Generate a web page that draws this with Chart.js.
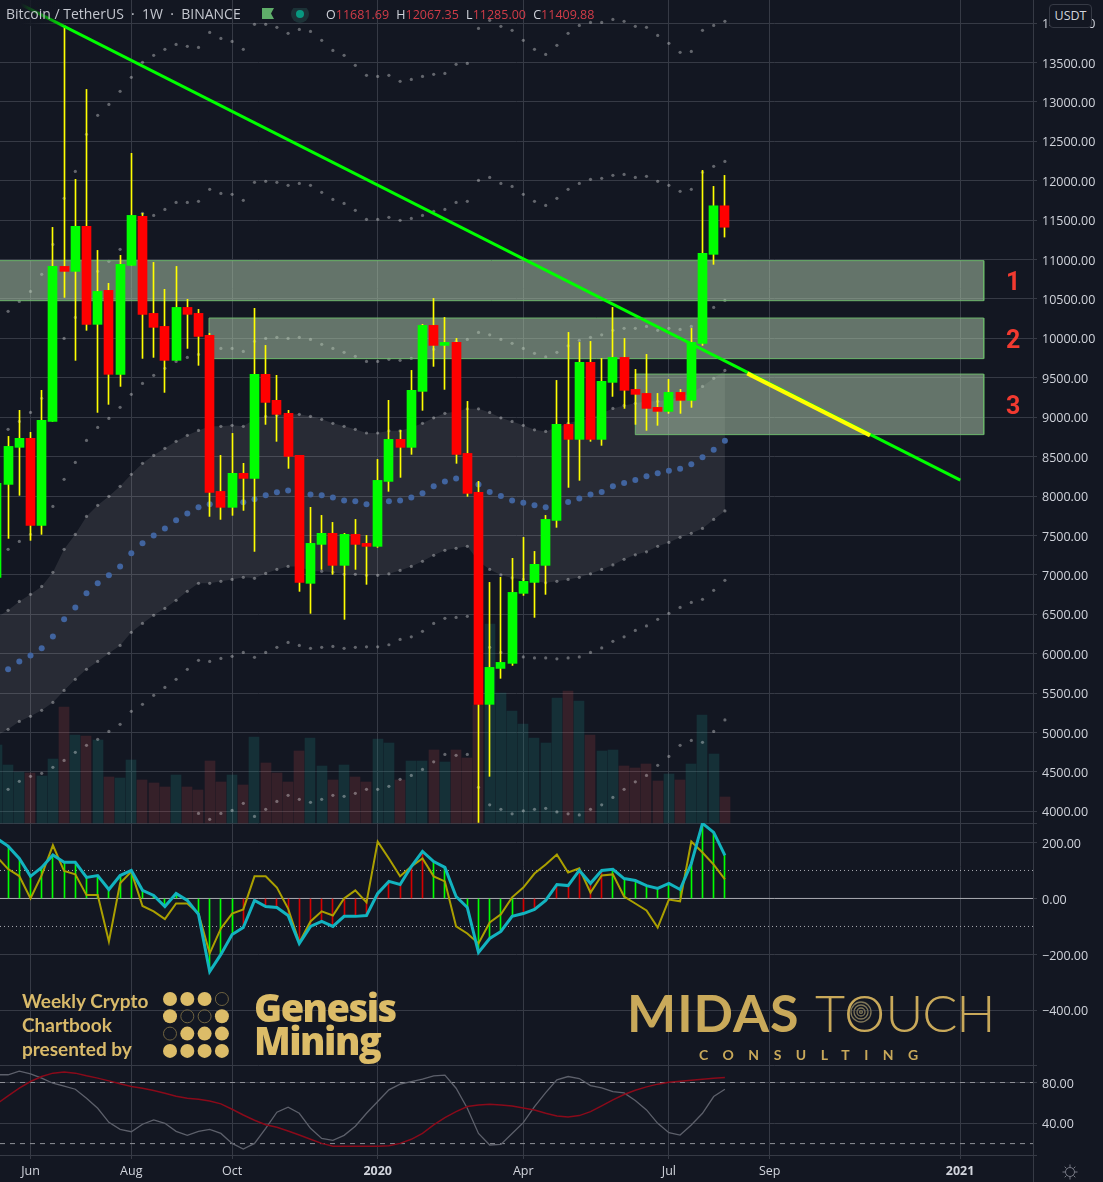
<!DOCTYPE html>
<html>
<head>
<meta charset="utf-8">
<title>BTCUSDT weekly</title>
<script src="https://cdn.jsdelivr.net/npm/chart.js@4"></script>
<style>
html, body { margin: 0; padding: 0; background: #131722; }
#wrap { position: relative; width: 1103px; height: 1182px; overflow: hidden; }
canvas { position: absolute; left: 0; top: 0; }
.t { position: absolute; white-space: nowrap; line-height: 1; }
.head { font-family: "Open Sans", sans-serif; font-size: 14px; color: #c3c6ce; }
.ohlc { font-family: "Open Sans", sans-serif; font-size: 12.5px; color: #d1d4dc; left: 326px; top: 9px; }
.ohlc b { font-weight: 400; color: #d23c48; margin-right: 4px; }
.zone { font-family: Roboto, sans-serif; font-weight: 700; font-size: 25px; color: #f23a30; }
.wc { font-family: Lato, sans-serif; font-weight: 700; font-size: 19px; color: #d9ba6a; left: 22px; }
.gm { font-family: "Open Sans", sans-serif; font-weight: 800; font-size: 38px; color: #dcbc68; left: 254px; letter-spacing: -1.5px; }
.mt { font-family: Lato, sans-serif; font-size: 52px; color: #c9a95a; }
</style>
</head>
<body>
<div id="wrap">
<canvas id="btcChart" width="1103" height="1182"></canvas>

<div class="t head" style="left:0;top:0;width:70px;height:26px;background:linear-gradient(90deg,#131722 30%,rgba(19,23,34,0))"></div>
<div class="t head" style="left:6px;top:7px">Bitcoin / TetherUS &nbsp;·&nbsp; 1W &nbsp;·&nbsp; BINANCE</div>
<svg class="t" style="left:262px;top:8px" width="50" height="16">
  <path d="M0 0H12L9 5.5L12 11H0Z" fill="#5fae6a"/>
  <circle cx="38" cy="6" r="9" fill="#1c3237"/><circle cx="38" cy="6" r="4" fill="#089981"/>
</svg>
<div class="t ohlc">O<b>11681.69</b> H<b>12067.35</b> L<b>11285.00</b> C<b>11409.88</b></div>
<div class="t" style="left:1049px;top:4px;width:41px;height:22px;border:1px solid #363a45;border-radius:4px;background:#131722;color:#d1d4dc;font:12.5px/22px 'Open Sans',sans-serif;text-align:center">USDT</div>

<div class="t zone" style="left:1006px;top:269px">1</div>
<div class="t zone" style="left:1006px;top:327px">2</div>
<div class="t zone" style="left:1006px;top:393px">3</div>

<div class="t wc" style="top:991px">Weekly Crypto</div>
<div class="t wc" style="top:1015px">Chartbook</div>
<div class="t wc" style="top:1039px">presented by</div>
<svg class="t" style="left:160px;top:989px" width="72" height="72" id="dotGrid"></svg>
<div class="t gm" style="top:988px">Genesis</div>
<div class="t gm" style="top:1021px">Mining</div>

<div class="t mt" style="left:627px;top:986px;font-weight:700;letter-spacing:1px">MIDAS</div>
<div class="t mt" style="left:815px;top:986px;font-weight:300;letter-spacing:-1.2px">T<span style="letter-spacing:.5px">O</span>UCH</div>
<svg class="t" style="left:849px;top:1000px" width="24" height="24" fill="none" stroke="#7f7658" stroke-width="1.3">
  <circle cx="12" cy="12" r="10"/><circle cx="12" cy="12" r="7"/><circle cx="12" cy="12" r="4"/><circle cx="12" cy="12" r="1.4"/>
</svg>
<div class="t" style="left:699px;top:1046px;font:700 14px Lato,sans-serif;color:#c9a95a;letter-spacing:14.5px">CONSULTING</div>

<div class="t" style="left:1033px;top:1155px;width:1px;height:27px;background:#363a45"></div>
<svg class="t" style="left:1062px;top:1164px" width="16" height="16" fill="none" stroke="#787b86" stroke-width="1">
  <circle cx="8" cy="8" r="4.5"/>
  <path d="M8 0.5V3M8 13V15.5M0.5 8H3M13 8H15.5M2.7 2.7L4.5 4.5M11.5 11.5L13.3 13.3M13.3 2.7L11.5 4.5M4.5 11.5L2.7 13.3"/>
</svg>
</div>

<script>
// weekly bars, first entry is three weeks before the "Jun" tick (week 0)
const opens = [6969,8148,8618, 8732,7628,8947,10913,10850,11421,10178,10609,9544,10926, 11548,10317,10152,9721,10393,10317,10038,8059,7857,8288, 8224,9544,9214,9049,8516,6893,7387,7527,7121,7514, 7400,7362,8186,8719,8618,9328,10165,9911,9949,8541, 8047,5358,5814,5878,6766,6905,7121,7692,8909,8719, 9696,8719,9442,9759,9353,9302,9125,9074,9315,9214, 9937,11066,11681.69]
const closes = [8161,8630,8732, 7628,8960,10913,10850,11421,10178,10596,9544,10939,11560, 10305,10140,9721,10393,10305,10025,8047,7857,8288,8224, 9544,9188,9036,8503,6905,7400,7527,7121,7514,7387, 7362,8199,8719,8618,9341,10165,9911,9949,8529,8034, 5358,5827,5890,6778,6918,7134,7704,8909,8719,9696, 8719,9455,9759,9341,9290,9112,9074,9315,9214,9949, 11078,11681.69,11409.88]
const highs = [8161,8757,9087, 8808,9341,11408,13970,12017,13158,11116,10698,11053,12347, 11586,10964,10622,10913,10495,10368,10064,8516,8795,8415, 10381,9911,9531,9087,8516,7857,7755,7666,7527,7704, 7501,8465,9214,8833,9594,10178,10507,10266,10000,9201, 8186,6905,6969,7210,7476,7298,7755,9467,10076,9949, 9962,9746,10393,10000,9607,9797,9302,9480,9353,10127, 12131,11928,12067.35]
const lows = [6969,7463,8009, 7438,7514,8947,10520,9721,10102,9061,9163,9391,10926, 9746,9759,9315,9721,9873,9658,7742,7704,7755,7818, 7298,8909,8694,8351,6791,6512,7070,7007,6436,7070, 6880,7349,8060,8237,8529,9087,9645,9353,8415,7996, 3861,4445,5688,5852,6740,6461,6753,7603,8110,8199, 8694,8643,9264,9112,8909,8833,8897,9049,9049,9125, 9911,10939,11285]
const volumes = [78,58,51, 50,47,64,116,88,87,83,46,45,63, 43,40,36,48,36,33,62,41,48,38, 86,60,50,41,72,85,57,43,58,46, 41,84,80,43,62,62,73,61,73,65, 118,199,130,112,99,85,80,125,132,122, 88,72,73,57,55,59,42,49,43,59, 108,69,26]

// envelope bands around the blue basis
const bandTop = [null,10343,10469,10596,10812,11192,11776,12118,12588,12829,12968,13133,13311,13501,13590,13666,13729,13704,13691,13881,13805,13767,13666,13983,13983,13945,13869,13919,13894,13780,13653,13590,13463,13336,13323,13336,13260,13285,13323,13349,13361,13476,13488,13932,14034,13958,13907,13780,13666,13602,13717,13869,13970,14008,14008,14046,14021,13958,13945,13843,13742,13628,13640,13907,13970,14021]
const bandHigh = [null,8846,8947,9061,9239,9645,10000,10266,10584,10850,10977,11129,11319,11586,11560,11636,11725,11725,11738,11890,11839,11827,11751,11979,11992,11979,11941,11966,11941,11852,11763,11712,11624,11510,11510,11535,11497,11522,11560,11611,11636,11725,11738,12004,12042,11966,11928,11827,11738,11687,11776,11890,11966,12017,12030,12068,12080,12042,12055,11992,11941,11865,11890,12106,12182,12245]
const bandMidHigh = [null,7324,7425,7514,7654,7869,8212,8427,8706,8871,8985,9125,9290,9429,9531,9620,9708,9759,9797,9873,9873,9873,9835,9962,10000,10013,10000,10013,9987,9924,9873,9823,9772,9708,9708,9734,9721,9746,9759,9861,9924,9962,9987,10076,10045,9987,9937,9873,9810,9765,9823,9905,9975,10013,10045,10102,10127,10127,10152,10102,10127,10114,10152,10330,10393,10482]
const fillUpper = [6461,6550,6664,6753,6854,7032,7324,7514,7742,7882,7996,8123,8275,8415,8516,8605,8694,8770,8833,8884,8884,8897,8884,8973,9011,9024,9037,9037,9011,8973,8922,8884,8846,8800,8800,8827,8827,8871,8922,8992,9049,9074,9106,9106,9061,8992,8947,8897,8840,8820,8871,8922,8960,8985,9049,9112,9150,9176,9201,9201,9226,9252,9315,9391,9493,9594]
const basis = [null,5802,5902,5979,6068,6220,6436,6588,6766,6893,6994,7108,7273,7400,7501,7590,7692,7780,7857,7895,7920,7920,7920,7958,8009,8047,8072,8047,8021,8009,7983,7945,7933,7895,7907,7933,7945,7983,8034,8123,8186,8224,8174,8148,8053,8000,7945,7914,7882,7857,7869,7926,7970,8021,8053,8123,8167,8205,8250,8288,8320,8345,8402,8491,8586,8700]
const fillLower = [4965,5041,5142,5206,5282,5383,5535,5675,5802,5903,6005,6106,6271,6385,6487,6575,6677,6791,6893,6893,6918,6943,6969,6956,7019,7070,7108,7108,7045,7045,7032,7007,7007,6994,6994,7013,7057,7108,7172,7248,7311,7337,7362,7172,7070,7000,6961,6943,6918,6899,6918,6943,6969,7013,7070,7127,7197,7254,7292,7362,7412,7476,7527,7590,7704,7812]
const bandMidLow = [null,4280,4381,4445,4483,4559,4647,4749,4838,4914,5015,5104,5269,5358,5472,5573,5675,5802,5916,5903,5941,5967,6017,5954,6017,6081,6144,6106,6068,6081,6093,6068,6081,6087,6087,6114,6182,6214,6284,6385,6449,6461,6474,6182,6081,6017,5979,5960,5947,5947,5935,5947,5960,6017,6074,6157,6214,6296,6353,6436,6512,6588,6651,6690,6804,6931]
const bandLow = [null,null,null,null,null,null,null,null,null,null,null,null,null,null,null,null,null,null,3975,3899,3975,4013,4102,3937,4026,4127,4204,4153,4115,4153,4204,4191,4229,4280,4280,4318,4407,4457,4533,4629,4723,4711,4723,4305,4083,4026,3969,4007,4026,4039,3994,3969,3956,4026,4083,4178,4280,4375,4457,4584,4698,4838,4901,4876,5015,5161]

// middle pane
const cciMain = [214,187,143, 79,111,155,129,129,75,82,32,82,100, 29,11,-29,18,-7,-57,-261,-200,-129,-104, -7,-29,-32,-61,-161,-100,-82,-100,-64,-64, -61,18,61,50,114,168,132,111,7,-32, -193,-143,-118,-64,-54,-39,-7,50,46,100, 54,100,104,71,64,46,36,54,32,125, 268,236,154]
const cciSignal = [149,105,80, 0,83,190,98,86,12,12,-154,54,96, -27,-46,-74,-18,-18,-54,-196,-107,-54,-39, 79,79,39,-36,-157,-82,-46,-61,0,29, -14,203,143,79,114,143,79,61,-100,-125, -161,-86,-57,4,39,89,121,157,93,108, 21,82,86,7,-18,-43,-104,-4,-10,203, 164,121,68]
const cciBarUp = [1,1,1, 1,1,1,1,1,1,1,1,1,1, 1,1,1,1,1,1,1,1,1,0, 0,0,0,0,0,0,0,0,0,0, 0,0,0,0,0,0,1,1,1,1, 1,1,1,1,0,0,0,0,0,0, 0,0,1,1,1,1,1,1,1,1, 1,1,1]

// bottom pane
const stochFast = [87.6,87.6,91.2,88.5,84.3,79.3,76.4,73.4,64.6,54.7,40.9,34,31.7,39,43.2,39.9,32,28.1,32,34,30,20.2,14.6,20.2,35,50.8,55.7,49.8,35,25.1,23.2,28.1,37,49.8,61.3,72.8,78.4,80.9,83.3,86.6,87.2,74.4,54.7,30,18.6,19.2,30,40.6,56.4,70.1,82.6,85.9,83.9,77,74.7,71.1,69.8,62.3,53.1,39.9,30.7,28.4,38.3,49.8,66.2,73.4]
const stochSlow = [59,66.9,74.4,81,85.9,89.2,90.2,89.2,86.6,84.3,81.6,78.7,76.1,74.4,72.1,69.5,66.5,64.6,63.6,61.9,59,53.7,48.1,42.9,38.6,36,32.4,28.4,24.2,20.2,17.3,17.3,17.3,17.3,17.3,17.9,20.2,24.2,30.1,38.3,45.5,51.4,56.4,58,58.7,58,57,55,53,49.8,47.1,46.2,47.5,51.4,57,62.9,68.2,72.4,75.7,78.4,80.3,81.3,82.3,83.3,84.3,84.9]

// axis labels
const timeTickWeeks = [0, 9, 18, 31, 44, 57, 66, 83]
const timeTickLabels = ['Jun', 'Aug', 'Oct', '2020', 'Apr', 'Jul', 'Sep', '2021']
const yearTickWeeks = [31, 83]
const priceTicks = [4000,4500,5000,5500,6000,6500,7000,7500,8000,8500,9000,9500,10000,10500,11000,11500,12000,12500,13000,13500,14000]
const cciTicks = [200, 0, -200, -400]
const stochTicks = [80, 40]

// drawings: [left week, right week, top price, bottom price]
const zone1 = [-4, 85.11, 10986, 10478]
const zone2 = [15.94, 85.11, 10258, 9743]
const zone3 = [54, 85.11, 9547, 8779]
const trendWeeks = [-2.1, 83.02]
const trendPrices = [14325, 8203]
const trendPartWeeks = [64, 74.96]
const trendPartPrices = [9556, 8770]
const cciLevels = [100, -100]
const stochLevels = [80, 20]

const weekMin = -2.723
const weekMax = 89.509
const grid = '#363a45'

function series(values) {
    return values.map((v, k) => ({ x: k - 3, y: v }))
}
function ranges(a, b) {
    return a.map((v, k) => ({ x: k - 3, y: [v, b[k]] }))
}
function zoneShape(z) {
    return [{x:z[0],y:z[2]},{x:z[1],y:z[2]},{x:z[1],y:z[3]},{x:z[0],y:z[3]},{x:z[0],y:z[2]}]
}
function levelLine(value) {
    return [{ x: weekMin, y: value }, { x: weekMax, y: value }]
}
function dots(values, order) {
    return {
        type: 'line', yAxisID: 'price', order: order, data: series(values),
        showLine: false, pointRadius: 1.6, pointBorderWidth: 0,
        pointBackgroundColor: 'rgba(255,255,255,0.34)'
    }
}
function zoneSet(z) {
    return {
        type: 'line', yAxisID: 'price', order: 60, data: zoneShape(z), fill: 'shape',
        backgroundColor: 'rgba(181,209,178,0.5)', borderColor: '#6cb56c', borderWidth: 1, pointRadius: 0
    }
}

const upDown = closes.map((c, k) => c >= opens[k])

const datasets = [
    // volume at the very back
    { type: 'bar', grouped: false, yAxisID: 'volume', order: 100, data: series(volumes), barThickness: 10,
      backgroundColor: upDown.map(u => u ? 'rgba(30,150,140,0.2)' : 'rgba(239,83,80,0.16)') },
    // shaded band between the inner dots
    { type: 'line', yAxisID: 'price', order: 90, data: series(fillUpper), showLine: true, borderWidth: 0,
      fill: { target: 2 }, backgroundColor: 'rgba(255,255,255,0.09)', pointRadius: 1.6, pointBorderWidth: 0,
      pointBackgroundColor: 'rgba(255,255,255,0.34)' },
    { type: 'line', yAxisID: 'price', order: 89, data: series(fillLower), showLine: true, borderWidth: 0,
      pointRadius: 1.6, pointBorderWidth: 0, pointBackgroundColor: 'rgba(255,255,255,0.34)' },
    dots(bandTop, 80), dots(bandHigh, 80), dots(bandMidHigh, 80), dots(bandMidLow, 80), dots(bandLow, 80),
    { type: 'line', yAxisID: 'price', order: 80, data: series(basis), showLine: false,
      pointRadius: 3, pointBorderWidth: 0, pointBackgroundColor: '#41649f' },
    zoneSet(zone1), zoneSet(zone2), zoneSet(zone3),
    // candles
    { type: 'bar', grouped: false, yAxisID: 'price', order: 50, data: ranges(lows, highs), barThickness: 1, backgroundColor: '#ffff00' },
    { type: 'bar', grouped: false, yAxisID: 'price', order: 40, data: ranges(opens, closes), barThickness: 9,
      backgroundColor: upDown.map(u => u ? '#00ff00' : '#ff0000') },
    // trend line, the part across zone 3 is yellow
    { type: 'line', yAxisID: 'price', order: 30, data: trendWeeks.map((w, k) => ({ x: w, y: trendPrices[k] })),
      borderColor: '#00ff00', borderWidth: 3, pointRadius: 0 },
    { type: 'line', yAxisID: 'price', order: 29, data: trendPartWeeks.map((w, k) => ({ x: w, y: trendPartPrices[k] })),
      borderColor: '#ffff00', borderWidth: 4, pointRadius: 0 },
    // middle pane
    { type: 'line', yAxisID: 'cci', order: 28, data: levelLine(0), borderColor: '#a9abb1', borderWidth: 1, pointRadius: 0 },
    { type: 'line', yAxisID: 'cci', order: 28, data: levelLine(cciLevels[0]), borderColor: '#a9abb1', borderWidth: 1, borderDash: [1, 3], pointRadius: 0 },
    { type: 'line', yAxisID: 'cci', order: 28, data: levelLine(cciLevels[1]), borderColor: '#a9abb1', borderWidth: 1, borderDash: [1, 3], pointRadius: 0 },
    { type: 'bar', grouped: false, yAxisID: 'cci', order: 27, data: series(cciMain), barThickness: 1,
      backgroundColor: cciBarUp.map(u => u ? '#00ff00' : '#d40000') },
    { type: 'line', yAxisID: 'cci', order: 26, data: series(cciSignal), borderColor: '#aba000', borderWidth: 2, pointRadius: 0 },
    { type: 'line', yAxisID: 'cci', order: 25, data: series(cciMain), borderColor: '#12b3bf', borderWidth: 3, pointRadius: 0 },
    // bottom pane
    { type: 'line', yAxisID: 'stoch', order: 24, data: levelLine(stochLevels[0]), borderColor: '#8f9198', borderWidth: 1, borderDash: [5, 5], pointRadius: 0 },
    { type: 'line', yAxisID: 'stoch', order: 24, data: levelLine(stochLevels[1]), borderColor: '#8f9198', borderWidth: 1, borderDash: [5, 5], pointRadius: 0 },
    { type: 'line', yAxisID: 'stoch', order: 23, data: series(stochFast), borderColor: '#5d606b', borderWidth: 1.3, pointRadius: 0 },
    { type: 'line', yAxisID: 'stoch', order: 22, data: series(stochSlow), borderColor: '#8a0a1a', borderWidth: 1.5, pointRadius: 0 }
]

// keeps thin bars on whole pixels
const snapBars = {
    id: 'snapBars',
    afterDatasetsUpdate(chart) {
        chart.getSortedVisibleDatasetMetas().forEach(meta => {
            if (meta.type !== 'bar') return
            meta.data.forEach(el => {
                if (Math.round(el.width) % 2 === 1) el.x = Math.floor(el.x) + 0.5
                else el.x = Math.round(el.x)
            })
        })
    }
}

// no room for overhanging tick labels, the panes fill the canvas
function noOverhang(s) {
    s.paddingTop = 0
    s.paddingBottom = 0
    s.paddingLeft = 0
    s.paddingRight = 0
}

// the font sits high on its middle baseline, nudge the labels down a bit
function nudgeLabels(s) {
    if (s._nudged) return
    s._nudged = true
    const compute = s._computeLabelItems
    s._computeLabelItems = function (area) {
        const items = compute.call(s, area)
        items.forEach(item => { item.options.translation[1] += 1.5 })
        return items
    }
}

function axisFont() { return { family: 'Open Sans', size: 12.5 } }
function rightAxis(stackWeight, min, max, ticks, label, extra) {
    return Object.assign({
        type: 'linear', position: 'right', stack: 'panes', stackWeight: stackWeight, min: min, max: max,
        afterBuildTicks: s => { s.ticks = ticks.concat([min]).map(v => ({ value: v })) },
        afterFit: s => { s.width = 70; noOverhang(s); nudgeLabels(s) },
        grid: { color: grid, tickColor: grid, tickLength: 4 },
        border: { color: grid },
        ticks: { color: '#d1d4dc', padding: 5, font: axisFont(), autoSkip: false, maxRotation: 0, callback: label }
    }, extra)
}

new Chart(document.getElementById('btcChart').getContext('2d'), {
    type: 'bar',
    data: { datasets: datasets },
    options: {
        responsive: false,
        animation: false,
        events: [],
        layout: { padding: 0, autoPadding: false },
        plugins: { legend: { display: false }, tooltip: { enabled: false } },
        scales: {
            x: {
                type: 'linear', min: weekMin, max: weekMax, offset: false,
                afterBuildTicks: s => { s.ticks = timeTickWeeks.map(v => ({ value: v })) },
                afterFit: s => { s.height = 27; noOverhang(s) },
                grid: { color: grid, tickColor: grid, tickLength: 4, offset: false },
                border: { color: grid },
                ticks: {
                    color: '#d1d4dc', padding: 5, autoSkip: false, maxRotation: 0,
                    font: c => ({ family: 'Open Sans', size: 12.5, weight: yearTickWeeks.includes(c.tick && c.tick.value) ? 700 : 400 }),
                    callback: v => timeTickLabels[timeTickWeeks.indexOf(v)]
                }
            },
            price: rightAxis(823, 3853, 14292, priceTicks, v => priceTicks.includes(v) ? v.toFixed(2) : ''),
            cci: rightAxis(242, -595, 269.6, cciTicks, v => cciTicks.includes(v) ? v.toFixed(2).replace('-', '\u2212') : ''),
            stoch: rightAxis(90, 8.8, 97.2, stochTicks, v => stochTicks.includes(v) ? v.toFixed(2) : ''),
            volume: { type: 'linear', display: false, position: 'right', min: -332, max: 823, afterFit: noOverhang }
        }
    },
    plugins: [snapBars]
})

// the four by four dots of the sponsor mark
const hollow = ['0,3', '1,1', '1,2', '2,0']
let marks = ''
for (let row = 0; row < 4; row++) {
    for (let col = 0; col < 4; col++) {
        const open = hollow.includes(row + ',' + col)
        marks += '<circle cx="' + (10 + col * 17.3) + '" cy="' + (10 + row * 17.3) + '" r="' + (open ? 6.5 : 7) + '" fill="' +
            (open ? 'none' : '#dcbc68') + '" stroke="' + (open ? '#6f6340' : 'none') + '"/>'
    }
}
document.getElementById('dotGrid').innerHTML = marks
</script>
</body>
</html>
